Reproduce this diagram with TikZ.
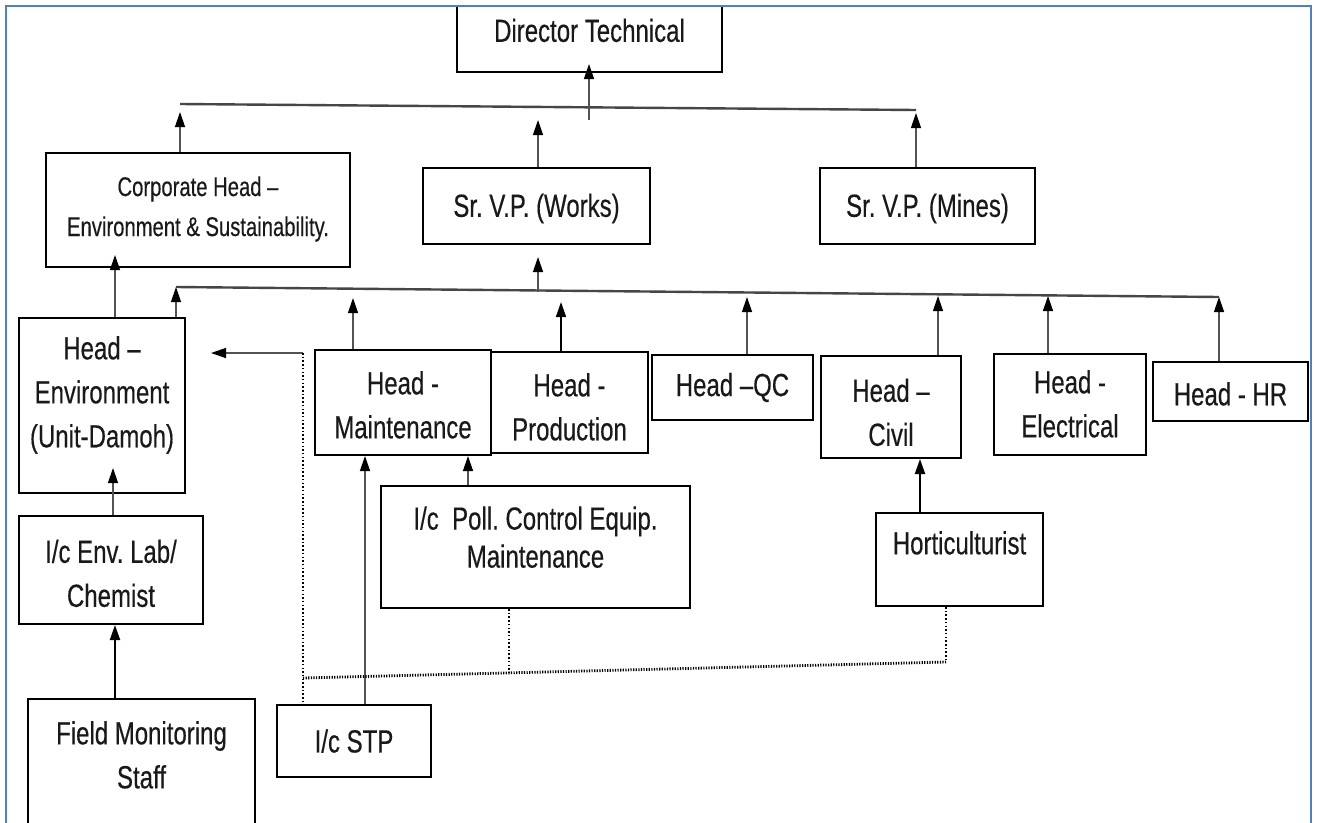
\documentclass[tikz,border=0pt]{standalone}
\usepackage{fontspec}
\setmainfont[FakeStretch=0.75,FakeBold=0.35]{Liberation Sans}
\usetikzlibrary{arrows.meta}
\definecolor{frameblue}{RGB}{79,129,189}
\definecolor{txt}{RGB}{25,25,25}
\newcommand{\lowered}[2]{\raisebox{-#1}[\height][\depth]{\begin{tabular}{@{}c@{}}#2\end{tabular}}}
\begin{document}
\frenchspacing
\begin{tikzpicture}[x=1pt,y=-1pt,
  box/.style={draw=black, line width=2pt, inner sep=0pt, align=center, text=txt,
    font=\fontsize{32}{44}\selectfont},
  arr/.style={draw=gray!65!black, line width=1.3pt,
    -{Triangle[length=15pt,width=10pt,color=black]}},
  arrk/.style={draw=black, line width=2pt,
    -{Triangle[length=15pt,width=10pt,color=black]}},
  bus/.style={draw=gray!55!black, line width=2.4pt},
  dotv/.style={draw=black, line width=1.5pt, dash pattern=on 1.5pt off 2.2pt},
  doth/.style={draw=black, line width=2.8pt, dash pattern=on 1.2pt off 1.4pt},
  frame/.style={draw=frameblue, line width=2.5pt}]
\useasboundingbox (0,0) rectangle (1317,822);
\fill[white] (0,0) rectangle (1317,822);
\clip (0,0) rectangle (1317,822);

% boxes
\node[box, minimum width=265pt, minimum height=66pt] (dir) at (589.5,39) {\lowered{-6pt}{Director Technical}};
\node[box, minimum width=304pt, minimum height=114pt, font=\fontsize{27}{40}\selectfont] (corp) at (198,210) {\lowered{-2pt}{Corporate Head –\\Environment \& Sustainability.}};
\node[box, minimum width=227pt, minimum height=76pt] (works) at (536.5,206) {\lowered{2pt}{Sr. V.P. (Works)}};
\node[box, minimum width=215pt, minimum height=76pt] (mines) at (927.5,206) {\lowered{2pt}{Sr. V.P. (Mines)}};
\node[box, minimum width=166pt, minimum height=175pt] (env) at (102,405.5) {\lowered{-11pt}{Head –\\Environment\\(Unit-Damoh)}};
\node[box, minimum width=176pt, minimum height=105pt] (maint) at (403,402.5) {\lowered{5pt}{Head -\\Maintenance}};
\node[box, minimum width=157pt, minimum height=101pt] (prod) at (569.5,402.5) {\lowered{7pt}{Head -\\Production}};
\node[box, minimum width=161pt, minimum height=65pt] (qc) at (732.5,387.5) {Head –QC};
\node[box, minimum width=140pt, minimum height=102pt] (civil) at (891,407) {\lowered{8pt}{Head –\\Civil}};
\node[box, minimum width=152pt, minimum height=101pt] (elec) at (1070,404.5) {\lowered{2pt}{Head -\\Electrical}};
\node[box, minimum width=155pt, minimum height=59pt] (hr) at (1230.5,391.5) {\lowered{5pt}{Head - HR}};
\node[box, minimum width=309pt, minimum height=122pt, font=\fontsize{32}{38}\selectfont] (poll) at (535.5,547) {\lowered{-6pt}{I/c\ \ Poll. Control Equip.\\Maintenance}};
\node[box, minimum width=167pt, minimum height=93pt] (hort) at (959.5,559.5) {\lowered{-14pt}{Horticulturist}};
\node[box, minimum width=184pt, minimum height=108pt] (lab) at (111,570) {\lowered{6pt}{I/c Env. Lab/\\Chemist}};
\node[box, minimum width=154pt, minimum height=72pt] (stp) at (354,741) {I/c STP};
\node[box, minimum width=227pt, minimum height=131pt] (field) at (141.5,764.5) {\lowered{-7pt}{Field Monitoring\\Staff}};

% top bus
\coordinate (t1L) at (180,104);
\coordinate (t1R) at (916,110);
\draw[bus] (t1L) -- (t1R);
\coordinate (tipCorp) at (180,112);
\coordinate (tipWorks) at (538,120);
\coordinate (tipMines) at (916,113);
\coordinate (dirFoot) at (589,120);
\draw[arr] (corp.north -| tipCorp) -- (tipCorp);
\draw[arr] (works.north -| tipWorks) -- (tipWorks);
\draw[arr] (mines.north -| tipMines) -- (tipMines);
\draw[arr, shorten >=-9pt] (dirFoot) -- (dir.south -| dirFoot);

% second bus
\coordinate (b2L) at (176,287);
\coordinate (b2R) at (1219,297);
\draw[bus] (b2L) -- (b2R);
\draw[arr] (env.north -| b2L) -- (b2L);
\coordinate (busW) at (538,292);
\draw[arr, shorten >=12pt] (busW) -- (works.south -| busW);
\coordinate (tipMaint) at (353,298);
\coordinate (tipProd) at (561,302);
\coordinate (tipQC) at (747,297);
\coordinate (tipCivil) at (938,296);
\coordinate (tipElec) at (1048,296);
\draw[arr] (maint.north -| tipMaint) -- (tipMaint);
\draw[arrk, line width=1.6pt] (prod.north -| tipProd) -- (tipProd);
\draw[arr] (qc.north -| tipQC) -- (tipQC);
\draw[arr] (civil.north -| tipCivil) -- (tipCivil);
\draw[arr] (elec.north -| tipElec) -- (tipElec);
\draw[arr] (hr.north -| b2R) -- (b2R);

% left column
\coordinate (xEC) at (115,0);
\coordinate (xLE) at (113,0);
\draw[arr, shorten >=-13pt] (env.north -| xEC) -- (corp.south -| xEC);
\draw[arr, shorten >=-26pt] (lab.north -| xLE) -- (env.south -| xLE);
\draw[arrk] (field.north -| xEC) -- (lab.south -| xEC);

% maintenance and civil children
\coordinate (xSTP) at (365,0);
\coordinate (xPoll) at (468,0);
\coordinate (xHort) at (920,0);
\draw[arr] (stp.north -| xSTP) -- (maint.south -| xSTP);
\draw[arr] (poll.north -| xPoll) -- (maint.south -| xPoll);
\draw[arrk] (hort.north -| xHort) -- (civil.south -| xHort);

% dotted reporting to Head - Environment
\coordinate (dc) at (303,353);
\draw[arr, shorten >=25pt] (dc) -- (env.east |- dc);
\draw[dotv] (dc) -- (stp.north -| dc);
\coordinate (dh1) at (303,678);
\coordinate (dh2) at (946,662);
\coordinate (dp) at (509,672);
\draw[doth] (dh1) -- (dh2);
\draw[dotv] (poll.south -| dp) -- (dp);
\draw[dotv] (hort.south -| dh2) -- (dh2);

% frame
\draw[frame] (6,6) rectangle (1311,850);
\end{tikzpicture}
\end{document}
